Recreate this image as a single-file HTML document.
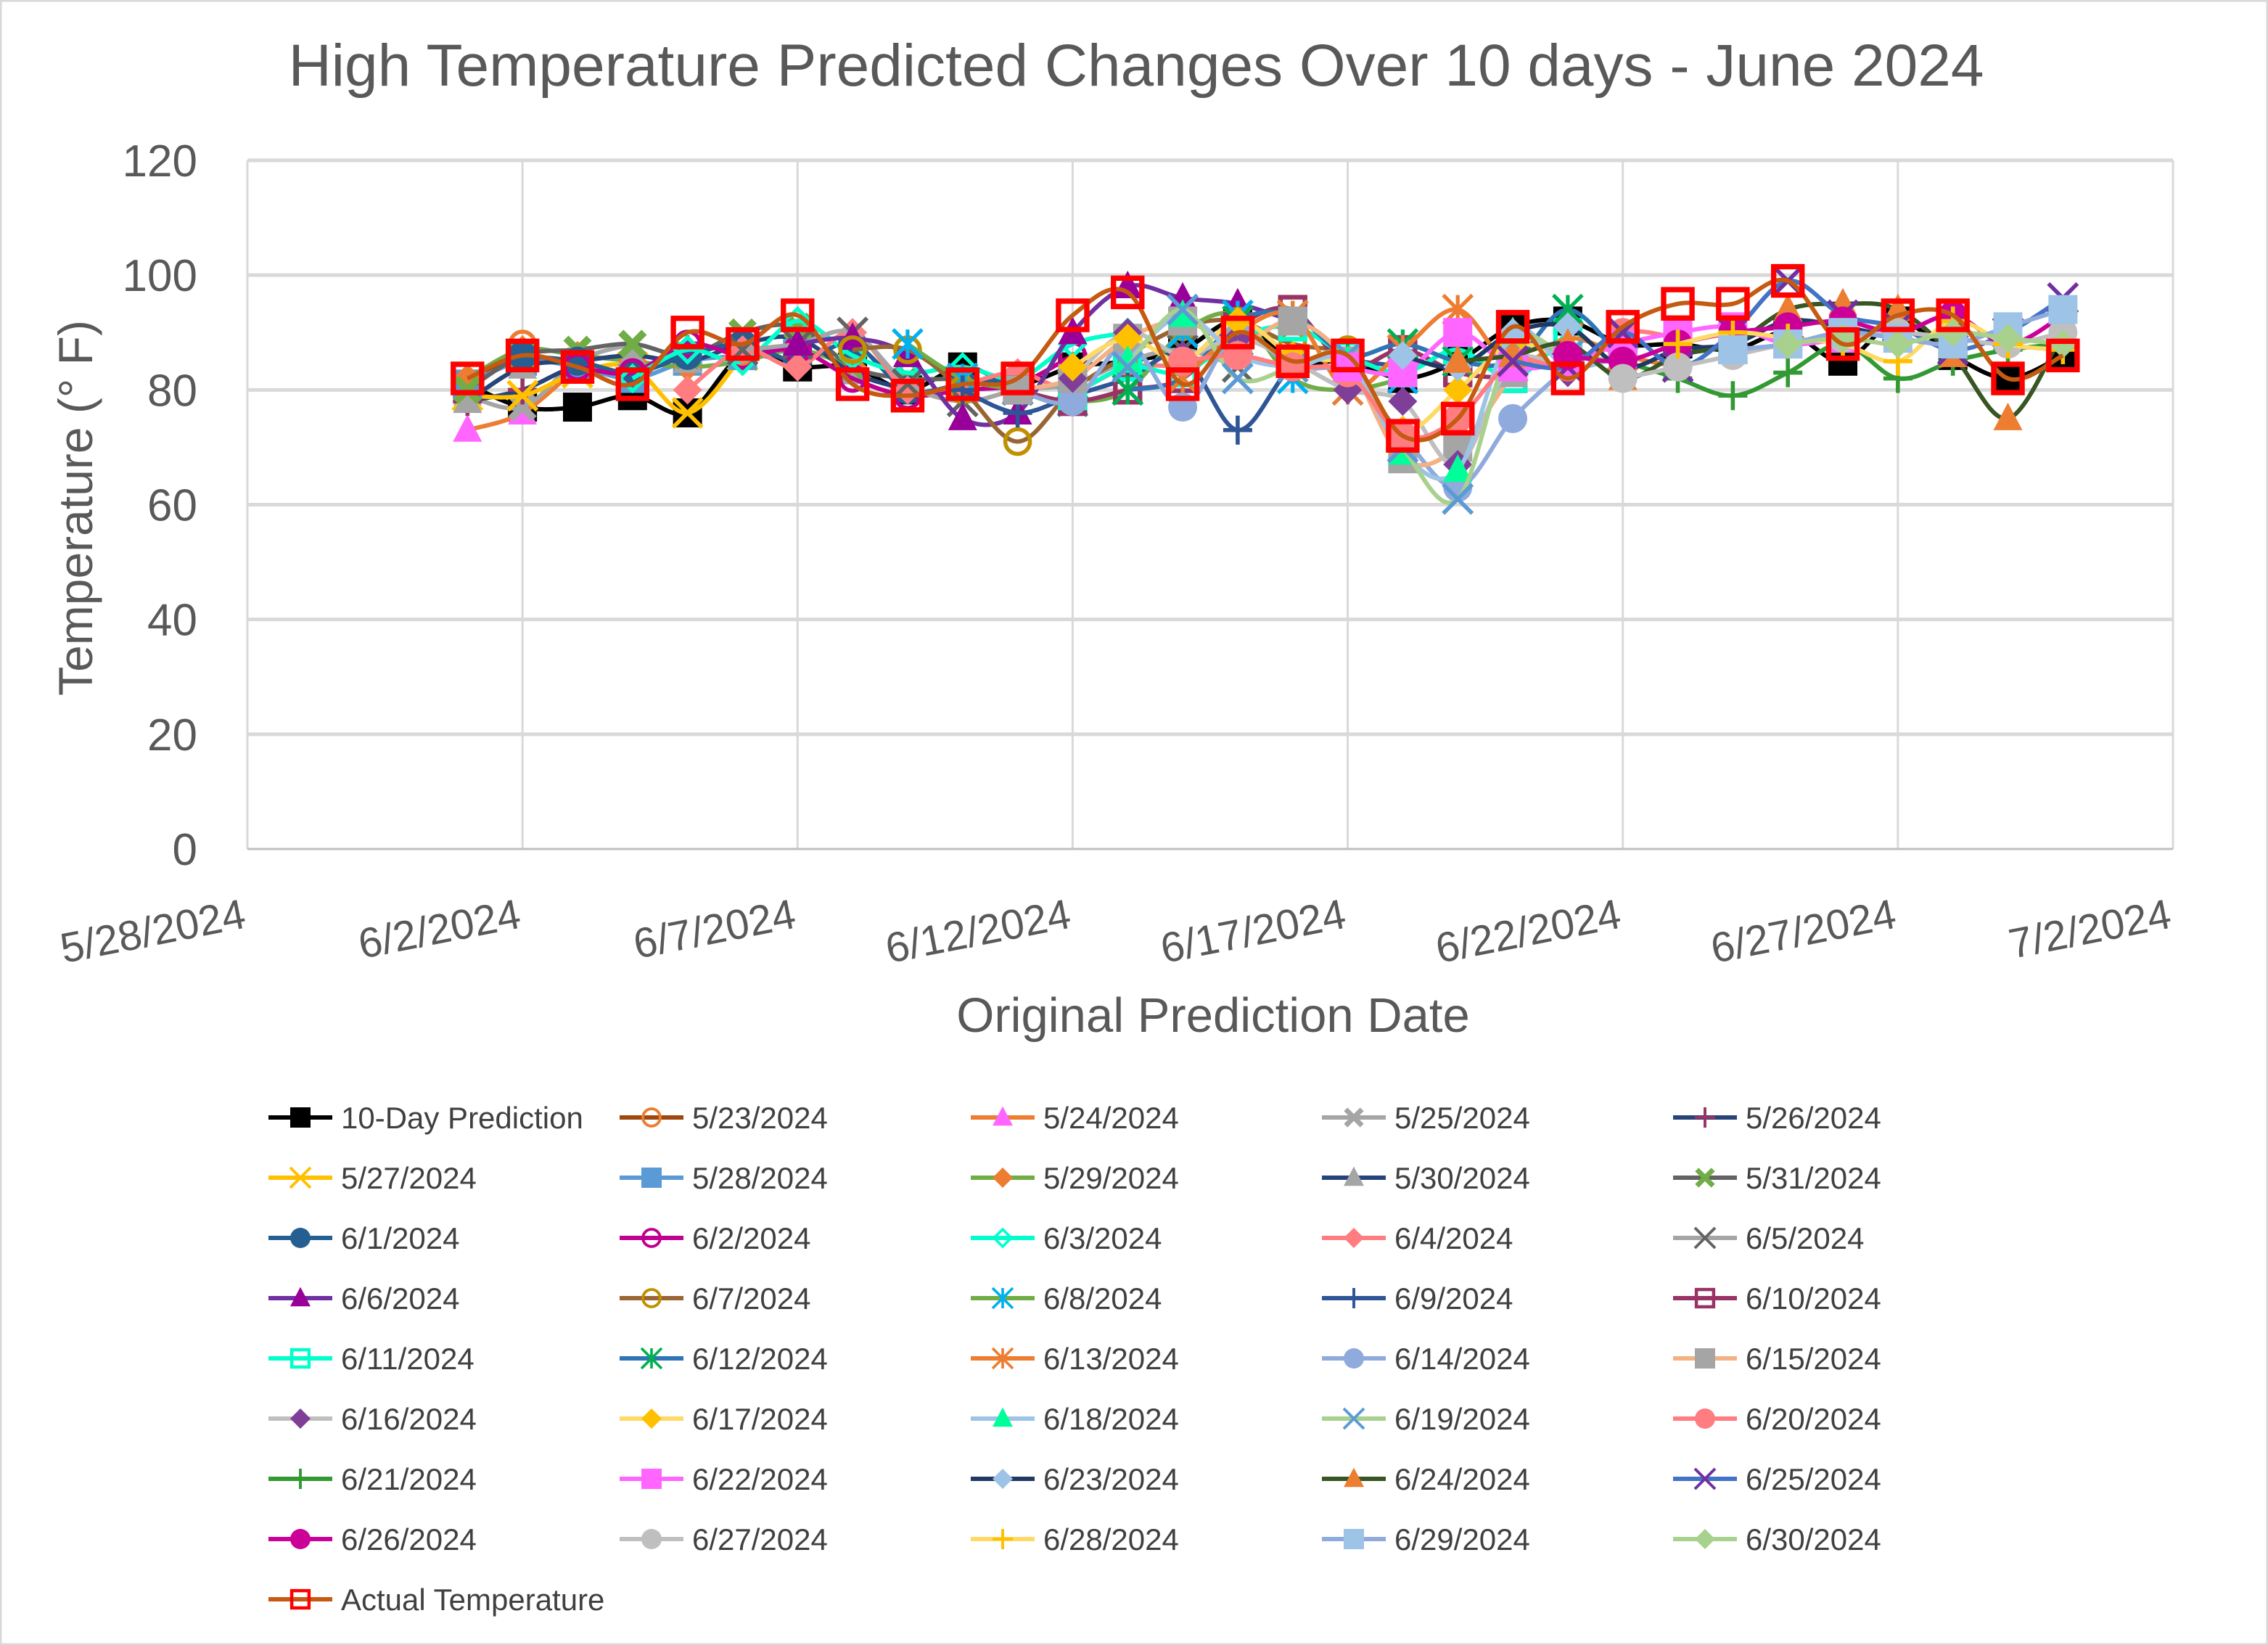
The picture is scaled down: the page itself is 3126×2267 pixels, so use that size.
<!DOCTYPE html>
<html><head><meta charset="utf-8"><style>
html,body{margin:0;padding:0;background:#fff;}
svg{display:block;font-family:"Liberation Sans","DejaVu Sans",sans-serif;}
</style></head><body>
<svg id="chart" width="3126" height="2267" viewBox="0 0 3126 2267" xmlns="http://www.w3.org/2000/svg">
<rect x="1" y="1" width="3124" height="2265" fill="#fff" stroke="#D9D9D9" stroke-width="3"/>
<text x="1566" y="118" text-anchor="middle" font-size="82" fill="#595959">High Temperature Predicted Changes Over 10 days - June 2024</text>
<g id="grid"></g>
<g id="axes"></g>
<g id="series"></g>
<g id="legend"></g>
<text transform="translate(127,700) rotate(-90)" text-anchor="middle" font-size="66" fill="#595959">Temperature (° F)</text>
<text x="1672" y="1422" text-anchor="middle" font-size="67" fill="#595959">Original Prediction Date</text>
</svg>
<script>
const yTicks = [0,20,40,60,80,100,120];
const xTickLabels = ["5/28/2024","6/2/2024","6/7/2024","6/12/2024","6/17/2024","6/22/2024","6/27/2024","7/2/2024"];
const xTickDays = [0,5,10,15,20,25,30,35];
const seriesNames = ["10-Day Prediction","5/23/2024","5/24/2024","5/25/2024","5/26/2024","5/27/2024","5/28/2024","5/29/2024","5/30/2024","5/31/2024","6/1/2024","6/2/2024","6/3/2024","6/4/2024","6/5/2024","6/6/2024","6/7/2024","6/8/2024","6/9/2024","6/10/2024","6/11/2024","6/12/2024","6/13/2024","6/14/2024","6/15/2024","6/16/2024","6/17/2024","6/18/2024","6/19/2024","6/20/2024","6/21/2024","6/22/2024","6/23/2024","6/24/2024","6/25/2024","6/26/2024","6/27/2024","6/28/2024","6/29/2024","6/30/2024","Actual Temperature"];
// first day index (days after 5/28/2024) for each series
const seriesStart = [4,4,4,4,4,4,4,4,4,4,5,6,7,8,9,10,11,12,13,14,15,16,17,14,14,15,15,16,16,17,25,20,21,22,23,24,25,26,27,28,4];
const s_10day = [81,77,77,79,76,86,84,84,80,84,81,84,85,87,92,85,85,82,85,91,92,88,88,87,90,85,92,86,82,86];
const s_0523 = [80,88];
const s_0524 = [73,76,84];
const s_0525 = [79,77,85,88];
const s_0526 = [78,80,84,83,87];
const s_0527 = [79,79,83,84,76,86];
const s_0528 = [81,85,84,82,85,86,87];
const s_0529 = [82,87,86,85,84,85,87,84];
const s_0530 = [78,84,85,86,85,88,89,83,80];
const s_0531 = [80,86,87,88,86,90,91,84,82,82];
const s_0601 = [86,85,83,86,88,85,88,80,81,82];
const s_0602 = [84,83,88,86,87,82,79,80,81,86];
const s_0603 = [82,87,85,92,86,83,84,82,88,90];
const s_0604 = [80,87,84,90,80,81,83,80,84,84];
const s_0605 = [87,88,90,81,78,80,81,85,87,84];
const s_0606 = [88,89,86,75,76,90,98,96,95,92];
const s_0607 = [87,87,80,71,80,86,91,92,88,87];
const s_0608 = [88,82,80,78,80,90,93,82,80,82];
const s_0609 = [80,76,79,82,86,73,84,85,84];
const s_0610 = [80,78,80,82,91,94,84,87,83,82];
const s_0611 = [79,84,83,89,91,86,83,87,82,90];
const s_0612 = [80,82,92,93,86,88,85,85,94,85];
const s_0613 = [82,90,93,80,87,94,84,89,86,84];
const s_0614 = [80,78,88,77,90,84,83,72,63,75,84];
const s_0615 = [80,82,89,92,88,92,85,68,70,83];
const s_0616 = [82,90,86,89,85,80,78,67,85,83];
const s_0617 = [84,89,85,92,86,84,73,80,88,85];
const s_0618 = [85,93,86,84,85,69,66,90,84,86];
const s_0619 = [84,94,82,84,86,70,61,88,86,85];
const s_0620 = [85,86,84,83,72,75,85,84,90,89];
const s_0621 = [85,82,79,83,88,82,85,87,88];
const s_0622 = [84,83,90,84,85,88,90,91,88,89];
const s_0623 = [86,84,90,91,84,87,88,92,91,89];
const s_0624 = [85,86,88,82,86,88,94,95,94,86,75,90];
const s_0625 = [85,84,90,84,90,99,93,91,87,90,96];
const s_0626 = [86,85,88,90,91,92,90,93,88,93,83];
const s_0627 = [82,84,86,88,89,90,89,88,90];
const s_0628 = [88,90,89,88,85,92,88,87];
const s_0629 = [87,88,90,89,88,91,94];
const s_0630 = [88,89,88,90,89,88];
const s_actual = [82,86,84,81,90,88,93,81,79,81,82,93,97,81,90,85,86,72,75,91,82,91,95,95,99,88,93,93,82,86];
const seriesValues = [s_10day,s_0523,s_0524,s_0525,s_0526,s_0527,s_0528,s_0529,s_0530,s_0531,s_0601,s_0602,s_0603,s_0604,s_0605,s_0606,s_0607,s_0608,s_0609,s_0610,s_0611,s_0612,s_0613,s_0614,s_0615,s_0616,s_0617,s_0618,s_0619,s_0620,s_0621,s_0622,s_0623,s_0624,s_0625,s_0626,s_0627,s_0628,s_0629,s_0630,s_actual];

const styles = [
["#000000","#000000","square"],["#9E480E","#ED7D31","hcircle"],["#ED7D31","#FF66FF","triangle"],["#A5A5A5","#A5A5A5","xthick"],["#264478","#993366","plus"],
["#FFC000","#FFC000","x"],["#5B9BD5","#5B9BD5","square"],["#70AD47","#ED7D31","diamond"],["#264478","#A5A5A5","triangle"],["#636363","#70AD47","xthick"],
["#255E91","#255E91","circle"],["#C00090","#C00090","hcircle"],["#00FFCC","#00FFCC","hdiamond"],["#FF7C80","#FF7C80","diamond"],["#A5A5A5","#636363","x"],
["#7030A0","#990099","triangle"],["#996633","#BF9000","hcircle"],["#70AD47","#00B0F0","star"],["#2F5597","#2F5597","plus"],["#993366","#993366","hsquare"],
["#00FFCC","#00FFCC","hsquare"],["#2E75B6","#00B050","star"],["#ED7D31","#ED7D31","star"],["#8FAADC","#8FAADC","circle"],["#F4B183","#A5A5A5","square"],
["#BFBFBF","#7F3F98","diamond"],["#FFD966","#FFC000","diamond"],["#9DC3E6","#00FF99","triangle"],["#A9D18E","#5B9BD5","x"],["#FF7C80","#FF7C80","circle"],
["#339933","#339933","plus"],["#FF66FF","#FF66FF","square"],["#1F3864","#9DC3E6","diamond"],["#375623","#ED7D31","triangle"],["#4472C4","#7030A0","x"],
["#CC0099","#CC0099","circle"],["#BFBFBF","#BFBFBF","circle"],["#FFD966","#FFC000","plus"],["#8FAADC","#9DC3E6","square"],["#A9D18E","#A9D18E","diamond"],
["#C55A11","#FF0000","hsquare"]
];

const NS="http://www.w3.org/2000/svg";
const L=341,R=2995,T=221,B=1170;
const xs=d=>L+d/35*(R-L);
const ys=v=>B-v/120*(B-T);
function mk(tag,attrs,parent){const e=document.createElementNS(NS,tag);for(const k in attrs)e.setAttribute(k,attrs[k]);parent.appendChild(e);return e;}

const grid=document.getElementById('grid');
yTicks.forEach(v=>{if(v>0){const l=mk('line',{x1:L,x2:R,y1:ys(v),y2:ys(v),stroke:'#D9D9D9','stroke-width':5},grid);

}});
xTickDays.forEach(d=>{const l=mk('line',{x1:xs(d),x2:xs(d),y1:T,y2:B,stroke:'#D9D9D9','stroke-width':3},grid);

});
const ax=document.getElementById('axes');
const base=mk('line',{x1:L,x2:R,y1:B,y2:B,stroke:'#BFBFBF','stroke-width':3},ax);


yTicks.forEach(v=>{const t=mk('text',{x:272,y:ys(v)+22,'text-anchor':'end','font-size':62,fill:'#595959'},ax);t.textContent=v;

});
xTickDays.forEach((d,i)=>{const t=mk('text',{transform:`translate(${xs(d)},${B+108}) rotate(-11)`,'text-anchor':'end','font-size':58,fill:'#595959'},ax);t.textContent=xTickLabels[i];

});

function marker(type,cx,cy,s,col,parent){
 const h=s/2;let e;
 switch(type){
  case 'square':e=mk('rect',{x:cx-h,y:cy-h,width:s,height:s,fill:col},parent);break;
  case 'hsquare':e=mk('rect',{x:cx-h*0.85,y:cy-h*0.85,width:s*0.85,height:s*0.85,fill:'none',stroke:col,'stroke-width':s*0.16},parent);break;
  case 'circle':e=mk('circle',{cx:cx,cy:cy,r:h,fill:col},parent);break;
  case 'hcircle':e=mk('circle',{cx:cx,cy:cy,r:h*0.85,fill:'none',stroke:col,'stroke-width':s*0.14},parent);break;
  case 'triangle':e=mk('polygon',{points:`${cx},${cy-h*1.1} ${cx+h},${cy+h*0.8} ${cx-h},${cy+h*0.8}`,fill:col},parent);break;
  case 'diamond':e=mk('polygon',{points:`${cx},${cy-h} ${cx+h},${cy} ${cx},${cy+h} ${cx-h},${cy}`,fill:col},parent);break;
  case 'hdiamond':e=mk('polygon',{points:`${cx},${cy-h*0.85} ${cx+h*0.85},${cy} ${cx},${cy+h*0.85} ${cx-h*0.85},${cy}`,fill:'none',stroke:col,'stroke-width':s*0.13},parent);break;
  case 'x':e=mk('path',{d:`M${cx-h} ${cy-h}L${cx+h} ${cy+h}M${cx+h} ${cy-h}L${cx-h} ${cy+h}`,stroke:col,'stroke-width':s*0.14,fill:'none'},parent);break;
  case 'xthick':e=mk('path',{d:`M${cx-h*0.8} ${cy-h*0.8}L${cx+h*0.8} ${cy+h*0.8}M${cx+h*0.8} ${cy-h*0.8}L${cx-h*0.8} ${cy+h*0.8}`,stroke:col,'stroke-width':s*0.25,fill:'none'},parent);break;
  case 'plus':e=mk('path',{d:`M${cx-h} ${cy}L${cx+h} ${cy}M${cx} ${cy-h}L${cx} ${cy+h}`,stroke:col,'stroke-width':s*0.14,fill:'none'},parent);break;
  case 'star':e=mk('path',{d:`M${cx-h} ${cy-h}L${cx+h} ${cy+h}M${cx+h} ${cy-h}L${cx-h} ${cy+h}M${cx} ${cy-h}L${cx} ${cy+h}`,stroke:col,'stroke-width':s*0.13,fill:'none'},parent);break;
 }
 return e;
}
function smooth(pts){
 if(pts.length<2)return '';
 let d=`M${pts[0][0]} ${pts[0][1]}`;
 for(let i=0;i<pts.length-1;i++){
  const p0=pts[i-1]||pts[i],p1=pts[i],p2=pts[i+1],p3=pts[i+2]||p2;
  const c1=[p1[0]+(p2[0]-p0[0])/6,p1[1]+(p2[1]-p0[1])/6],c2=[p2[0]-(p3[0]-p1[0])/6,p2[1]-(p3[1]-p1[1])/6];
  d+=`C${c1[0]} ${c1[1]} ${c2[0]} ${c2[1]} ${p2[0]} ${p2[1]}`;
 }
 return d;
}
const sg=document.getElementById('series');
seriesValues.forEach((vals,i)=>{
 const g=mk('g',{},sg);
 
 
 const pts=[];
 vals.forEach((v,j)=>{const d=seriesStart[i]+j;if(d>=4&&d<=33)pts.push([xs(d),ys(v)]);});
 const line=mk('path',{d:smooth(pts),fill:'none',stroke:styles[i][0],'stroke-width':6},g);
 
 
 pts.forEach(p=>{const m=marker(styles[i][2],p[0],p[1],i===40?46:40,styles[i][1],g);
  
  });
});

const lg=document.getElementById('legend');
seriesNames.forEach((n,i)=>{
 const col=i%5,row=Math.floor(i/5);
 const x0=370+col*484,y0=1540+row*83;
 const g=mk('g',{},lg);
 
 
 mk('line',{x1:x0,x2:x0+88,y1:y0,y2:y0,stroke:styles[i][0],'stroke-width':6},g);
 marker(styles[i][2],x0+44,y0,28,styles[i][1],g);
 const t=mk('text',{x:x0+100,y:y0+15,'font-size':42,fill:'#404040'},g);t.textContent=n;
});
</script>
</body></html>
